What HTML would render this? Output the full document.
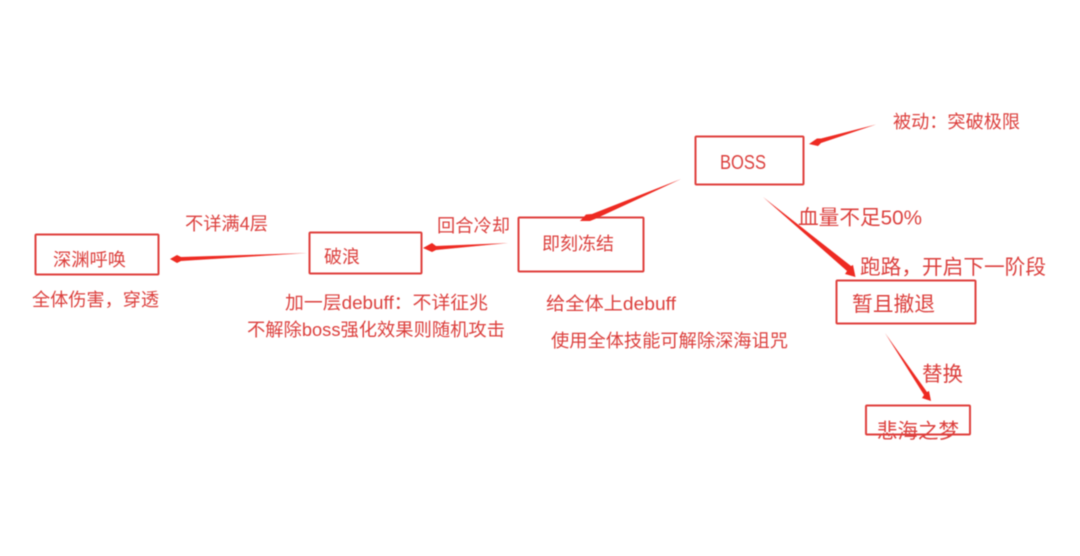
<!DOCTYPE html>
<html lang="zh">
<head>
<meta charset="utf-8">
<title>BOSS</title>
<style>
html,body{margin:0;padding:0;background:#fff;width:1080px;height:556px;overflow:hidden}
svg{display:block}
text{font-family:"Liberation Sans","Noto Sans CJK SC",sans-serif;fill:#dc3f3c;font-size:18px}
.b{font-size:20.5px}
rect{fill:none;stroke:#e0403c;stroke-width:2}
polygon{fill:#ee2a24}
</style>
</head>
<body>
<svg width="1080" height="556" viewBox="0 0 1080 556" xmlns="http://www.w3.org/2000/svg">
<defs><filter id="s" x="-5%" y="-5%" width="110%" height="110%"><feGaussianBlur stdDeviation="0.45"/></filter></defs>
<g filter="url(#s)">
<rect x="695.5" y="136.5" width="108" height="48" rx="1"/>
<rect x="836.5" y="280.5" width="139" height="43" rx="1"/>
<rect x="866" y="405.5" width="104" height="29" rx="1"/>
<rect x="35.5" y="234.5" width="123" height="40" rx="1"/>
<rect x="309.5" y="232.5" width="112" height="41" rx="1"/>
<rect x="518.5" y="217.5" width="125" height="54" rx="1"/>

<polygon points="876,124.5 821,138.5 817,138.5 809,144 818,146 821,143"/>
<polygon points="681,179 592,214 586,214.5 580,221 590,221 595,219"/>
<polygon points="763,197 851,266 853,265 855.5,277 845,274 847,271"/>
<polygon points="885,333 927,392 929,391 931,401 922,398 924,395"/>
<polygon points="508,243 436,246 432,243 423,248 432,252 436,250"/>
<polygon points="307,253 181,257 177,255 170,259 177,263 181,261"/>

<text x="893" y="128" textLength="127" lengthAdjust="spacingAndGlyphs">被动：突破极限</text>
<text x="720" y="169" textLength="46" lengthAdjust="spacingAndGlyphs" style="font-size:20px">BOSS</text>
<text class="b" x="798" y="224.5" textLength="124" lengthAdjust="spacingAndGlyphs">血量不足50%</text>
<text class="b" x="860" y="274" textLength="186" lengthAdjust="spacingAndGlyphs">跑路，开启下一阶段</text>
<text class="b" x="852" y="311" textLength="83" lengthAdjust="spacingAndGlyphs">暂且撤退</text>
<text class="b" x="922" y="381" textLength="41" lengthAdjust="spacingAndGlyphs">替换</text>
<text class="b" x="877" y="438" textLength="82" lengthAdjust="spacingAndGlyphs">悲海之梦</text>
<text x="185" y="230" textLength="83" lengthAdjust="spacingAndGlyphs">不详满4层</text>
<text x="53" y="266" textLength="73" lengthAdjust="spacingAndGlyphs">深渊呼唤</text>
<text x="32" y="306" textLength="127" lengthAdjust="spacingAndGlyphs">全体伤害，穿透</text>
<text x="324" y="263" textLength="36" lengthAdjust="spacingAndGlyphs">破浪</text>
<text x="437" y="232" textLength="73" lengthAdjust="spacingAndGlyphs">回合冷却</text>
<text x="285" y="309" textLength="203" lengthAdjust="spacingAndGlyphs">加一层debuff：不详征兆</text>
<text x="247" y="336" textLength="258" lengthAdjust="spacingAndGlyphs">不解除boss强化效果则随机攻击</text>
<text x="542" y="250" textLength="72" lengthAdjust="spacingAndGlyphs">即刻冻结</text>
<text x="546" y="310" textLength="130" lengthAdjust="spacingAndGlyphs">给全体上debuff</text>
<text x="551" y="347" textLength="237" lengthAdjust="spacingAndGlyphs">使用全体技能可解除深海诅咒</text>
</g>
</svg>
</body>
</html>
